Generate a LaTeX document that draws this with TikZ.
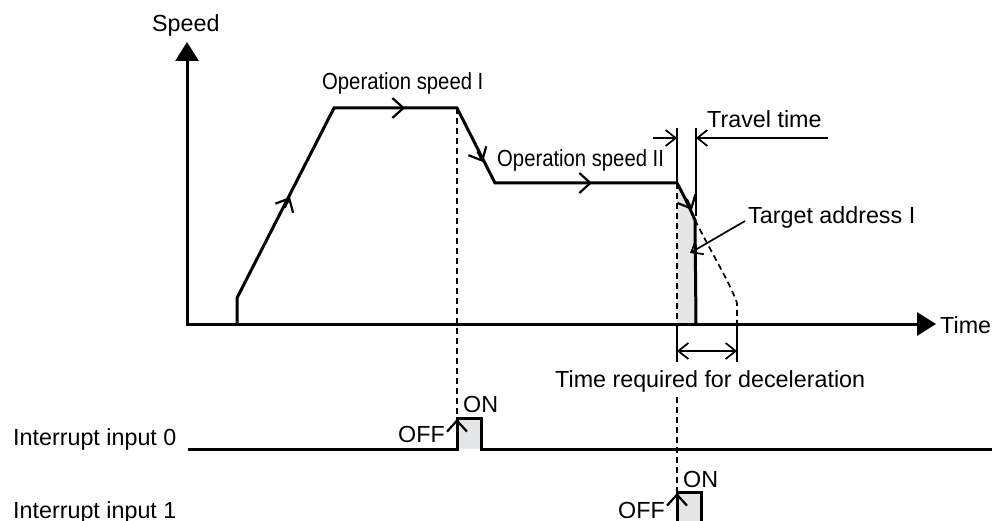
\documentclass[tikz,border=0pt]{standalone}
\usepackage{fontspec}
\setmainfont{Liberation Sans}
\usetikzlibrary{arrows.meta,calc}
\definecolor{pulsegray}{RGB}{229,230,231}
\begin{document}
\begin{tikzpicture}[x=1pt,y=-1pt, line join=miter,
  thickline/.style={line width=3pt},
  thinline/.style={line width=1.7pt},
  dashline/.style={line width=1.7pt, dash pattern=on 6pt off 4pt},
  chev/.style={line width=2.4pt,-{Straight Barb[length=11pt,width=20pt,line width=2.2pt]}},
  dimarr/.style={thinline,-{Straight Barb[length=10pt,width=16pt,line width=1.7pt]}},
  lbl/.style={inner sep=0pt, anchor=base west, font=\fontsize{23.3}{28}\selectfont}]
\useasboundingbox (0,0) rectangle (992,521);
% coordinates
\coordinate (O) at (187,324);
\coordinate (Ytip) at (187,42);
\coordinate (Xtip) at (936,324);
\coordinate (p0) at (237,324);
\coordinate (p1) at (237,298);
\coordinate (p2) at (334,108);
\coordinate (p3) at (457,108);
\coordinate (p4) at (495,183);
\coordinate (p5) at (677,183);
\coordinate (p6) at (695,220);
\coordinate (p7) at (696,324);
\coordinate (d1) at (737,303);
\coordinate (d2) at (737,324);
\coordinate (g0) at (677,324);
% gray areas
\fill[pulsegray] (p5) .. controls (686,200) .. (p6) -- (p7) -- (g0) -- cycle;
\fill[pulsegray] (457,449) rectangle (481,418);
\fill[pulsegray] (677,521) rectangle (701,492);
% dashed verticals
\draw[dashline] (p3) -- (457,418);
\draw[dashline] (p5) -- (g0);
\draw[dashline] (677,397) -- (677,492);
% axes
\draw[thickline, {Triangle[length=19pt,width=23pt]}-{Triangle[length=19pt,width=23pt]}] (Ytip) -- (O) -- (Xtip);
% speed profile
\draw[thickline] (p0) -- (p1) -- (p2) -- (p3) -- (p4) -- (p5) .. controls (686,200) .. (p6) -- (p7);
\draw[dashline] (p6) .. controls (710,250) and (730,283) .. (d1) -- (d2);
% profile arrows
\coordinate (a1s) at (284.5,207.7); \coordinate (a1e) at (290,197);
\coordinate (a2s) at (393,108);     \coordinate (a2e) at (405,108);
\coordinate (a3s) at (477.6,151.3); \coordinate (a3e) at (483,162);
\coordinate (a4s) at (580,183);     \coordinate (a4e) at (592,183);
\coordinate (a5s) at (686.8,199.3); \coordinate (a5e) at (692,210);
\draw[chev] (a1s) -- (a1e);
\draw[chev] (a2s) -- (a2e);
\draw[chev] (a3s) -- (a3e);
\draw[chev] (a4s) -- (a4e);
\draw[chev] (a5s) -- (a5e);
% travel time dimension
\coordinate (t1top) at (677,128);
\coordinate (t2top) at (696,128);
\coordinate (t2bot) at (696,216);
\coordinate (tl) at (653,138);
\coordinate (tlx) at (677,138);
\coordinate (tr) at (828,138);
\coordinate (trx) at (696,138);
\draw[thinline] (t1top) -- (p5);
\draw[thinline] (t2top) -- (t2bot);
\draw[dimarr] (tl) -- (tlx);
\draw[dimarr] (tr) -- (trx);
\node[lbl] (travel) at (707,128) {Travel time};
% target address
\node[lbl] (target) at (748,223) {Target address I};
\coordinate (tas) at (745,221);
\coordinate (tae) at (690,253);
\draw[dimarr] (tas) -- (tae);
% deceleration dimension
\coordinate (e1) at (677,362);
\coordinate (e2) at (737,362);
\coordinate (e1a) at (677,351);
\coordinate (e2a) at (737,351);
\draw[thinline] (g0) -- (e1);
\draw[thinline] (d2) -- (e2);
\draw[dimarr, {Straight Barb[length=10pt,width=16pt,line width=1.7pt]}-{Straight Barb[length=10pt,width=16pt,line width=1.7pt]}] (e1a) -- (e2a);
\node[lbl] (decel) at (555,387) {Time required for deceleration};
% labels
\node[lbl] (speed) at (152,32) {Speed};
\node[lbl] (time) at (940,333) {Time};
\node[lbl] (ops1) at (322,90) {\scalebox{0.87}[1]{Operation speed I}};
\node[lbl] (ops2) at (497,167) {\scalebox{0.87}[1]{Operation speed II}};
% interrupt input 0
\node[lbl] (in0) at (13,445) {Interrupt input 0};
\draw[thickline] (188,449) -- (457,449) -- (457,418) -- (481,418) -- (481,449) -- (992,449);
\draw[chev] (457,440) -- (457,419);
\node[lbl] (off0) at (398,442) {OFF};
\node[lbl] (on0) at (463,412) {ON};
% interrupt input 1
\node[lbl] (in1) at (13,518) {Interrupt input 1};
\draw[thickline] (677,524) -- (677,492) -- (701,492) -- (701,524);
\draw[chev] (677,514) -- (677,493);
\node[lbl] (off1) at (618,518) {OFF};
\node[lbl] (on1) at (683,487) {ON};
\end{tikzpicture}
\end{document}
